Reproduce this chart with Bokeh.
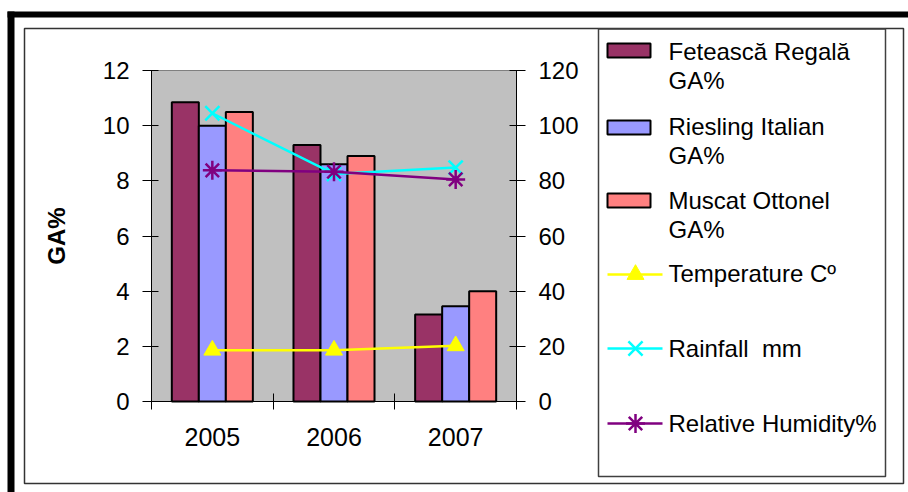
from bokeh.plotting import figure
from bokeh.models import ColumnDataSource, Range1d, LinearAxis, FixedTicker
from bokeh.core.properties import value
from bokeh.transform import dodge
from bokeh.embed import file_html
from bokeh.resources import INLINE

# ---- data ----
years = ["2005", "2006", "2007"]
feteasca = [10.85, 9.3, 3.15]      # Fetească Regală GA%
riesling = [10.0, 8.6, 3.45]       # Riesling Italian GA%
muscat = [10.5, 8.9, 4.0]          # Muscat Ottonel GA%
temperature = [18.6, 18.6, 20.2]   # Temperature C
rainfall = [104.5, 82.5, 84.8]     # Rainfall mm
humidity = [83.8, 83.3, 80.5]      # Relative Humidity %
ga_ticks = [0, 2, 4, 6, 8, 10, 12]
climate_ticks = [0, 20, 40, 60, 80, 100, 120]

FONT = "Liberation Sans"
W, H = 908, 492
# plot-area edges in page pixels
PL, PT, PR, PB = 151, 70, 516, 401
GA_MAX, CLIM_MAX = 12, 120
ncat = len(years)


def range_for(lo_px, hi_px, vmax, page_lo, page_hi):
    """Range whose 0 sits at lo_px and vmax at hi_px, stretched over the page."""
    k = vmax / (hi_px - lo_px)
    return Range1d(start=(page_lo - lo_px) * k, end=(page_hi - lo_px) * k)


# the frame covers the whole page; page pixels are the default coordinates (y down)
p = figure(width=W, height=H, output_backend="svg", toolbar_location=None,
           x_range=Range1d(0, W), y_range=Range1d(H, 0),
           x_axis_location=None, y_axis_location=None,
           min_border=0, outline_line_color=None,
           background_fill_color="white", border_fill_color="white")
p.xgrid.visible = False
p.ygrid.visible = False
p.extra_x_ranges = {"cat": range_for(PL, PR, ncat, 0, W)}
# y grows upwards, so map page bottom (H) to range start and top (0) to end
p.extra_y_ranges = {"ga": range_for(PB, PT, GA_MAX, H, 0),
                    "clim": range_for(PB, PT, CLIM_MAX, H, 0)}

# ---- page frame and borders ----
p.quad(left=7, right=W, top=11, bottom=17, fill_color="black", line_color=None)
p.quad(left=7, right=14, top=11, bottom=H, fill_color="black", line_color=None)
p.quad(left=24, right=903, top=28, bottom=483, fill_color=None,
       line_color="#333333", line_width=1.5)
p.quad(left=598, right=885, top=28.5, bottom=476, fill_color=None,
       line_color="#404040", line_width=1.5)

# ---- plot area ----
p.quad(left=0, right=ncat, bottom=0, top=GA_MAX, x_range_name="cat", y_range_name="ga",
       fill_color="#C0C0C0", line_color="#808080", line_width=1)

centers = [i + 0.5 for i in range(ncat)]
source = ColumnDataSource(dict(x=centers, feteasca=feteasca, riesling=riesling,
                               muscat=muscat, temperature=temperature,
                               rainfall=rainfall, humidity=humidity))

bw = 0.222
bar_series = (("feteasca", -bw, "#993366"),
              ("riesling", 0, "#9999FF"),
              ("muscat", bw, "#FF8080"))
for field, off, color in bar_series:
    p.vbar(x=dodge("x", off, range=p.extra_x_ranges["cat"]), top=field, width=bw,
           source=source, x_range_name="cat", y_range_name="ga",
           fill_color=color, line_color="black", line_width=2)

line_kw = dict(source=source, x_range_name="cat", y_range_name="clim")
p.line("x", "temperature", color="#FFFF00", line_width=2.5, **line_kw)
p.scatter("x", "temperature", marker="triangle", size=17,
          fill_color="#FFFF00", line_color="#FFFF00", **line_kw)
p.line("x", "rainfall", color="#00FFFF", line_width=2.5, **line_kw)
p.scatter("x", "rainfall", marker="x", size=20, line_color="#00FFFF",
          line_width=2.5, **line_kw)
p.line("x", "humidity", color="#800080", line_width=2.5, **line_kw)
p.scatter("x", "humidity", marker="asterisk", size=19, line_color="#800080",
          line_width=2.5, **line_kw)

# ---- axes pinned to the plot area ----
left = LinearAxis(y_range_name="ga", fixed_location=PL, bounds=(0, GA_MAX),
                  ticker=FixedTicker(ticks=ga_ticks), axis_label="GA%")
right = LinearAxis(y_range_name="clim", fixed_location=PR, bounds=(0, CLIM_MAX),
                   ticker=FixedTicker(ticks=climate_ticks))
for ax in (left, right):
    ax.major_tick_in = 7
    ax.major_tick_out = 9
    ax.minor_tick_line_color = None
    ax.major_tick_line_color = "black"
    ax.axis_line_color = "black"
    ax.major_label_text_font = FONT
    ax.major_label_text_font_size = "24px"
    ax.major_label_text_color = "black"
    ax.major_label_standoff = 13
left.axis_label_text_font = FONT
left.axis_label_text_font_style = "bold"
left.axis_label_text_font_size = "24px"
left.axis_label_text_color = "black"
left.axis_label_standoff = 30
p.add_layout(left, "left")
p.add_layout(right, "right")

# year labels centred on each group, ticks between groups
bottom = LinearAxis(x_range_name="cat", fixed_location=PB, bounds=(0, ncat),
                    ticker=FixedTicker(ticks=centers, minor_ticks=list(range(ncat + 1))),
                    major_label_overrides={c: y for c, y in zip(centers, years)})
bottom.major_tick_line_color = None
bottom.minor_tick_line_color = "black"
bottom.minor_tick_in = 8
bottom.minor_tick_out = 8
bottom.axis_line_color = "black"
bottom.major_label_text_font = FONT
bottom.major_label_text_font_size = "25px"
bottom.major_label_text_color = "black"
bottom.major_label_standoff = 18
p.add_layout(bottom, "below")

# ---- legend, laid out in page pixels ----
LX0, LX1, MX, TX = 607, 662, 635, 668
patch_rows = [50, 127, 200]
patch_colors = ["#993366", "#9999FF", "#FF8080"]
p.quad(left=[607] * 3, right=[650] * 3,
       top=[y - 7 for y in patch_rows], bottom=[y + 7 for y in patch_rows],
       fill_color=patch_colors, line_color="black", line_width=2)

line_rows = [274, 348, 423]
line_colors = ["#FFFF00", "#00FFFF", "#800080"]
p.segment(x0=[LX0] * 3, y0=line_rows, x1=[LX1] * 3, y1=line_rows,
          line_color=line_colors, line_width=2.5)
p.scatter(x=[MX], y=[274], marker="triangle", size=17,
          fill_color="#FFFF00", line_color="#FFFF00")
p.scatter(x=[MX], y=[348], marker="x", size=20, line_color="#00FFFF", line_width=2.5)
p.scatter(x=[MX], y=[423], marker="asterisk", size=19, line_color="#800080", line_width=2.5)

legend_text = ["Fetească Regală", "GA%", "Riesling Italian", "GA%",
               "Muscat Ottonel", "GA%", "Temperature C\u00ba",
               "Rainfall\u00a0 mm", "Relative Humidity%"]
legend_y = [51, 80, 126, 155, 200, 229, 273, 348, 423]
p.text(x=[TX] * len(legend_text), y=legend_y, text=legend_text,
       text_font=value(FONT), text_font_size=value("24px"), text_color="black",
       text_baseline="middle", text_align="left")

open("out.html", "w").write(file_html(p, INLINE))
